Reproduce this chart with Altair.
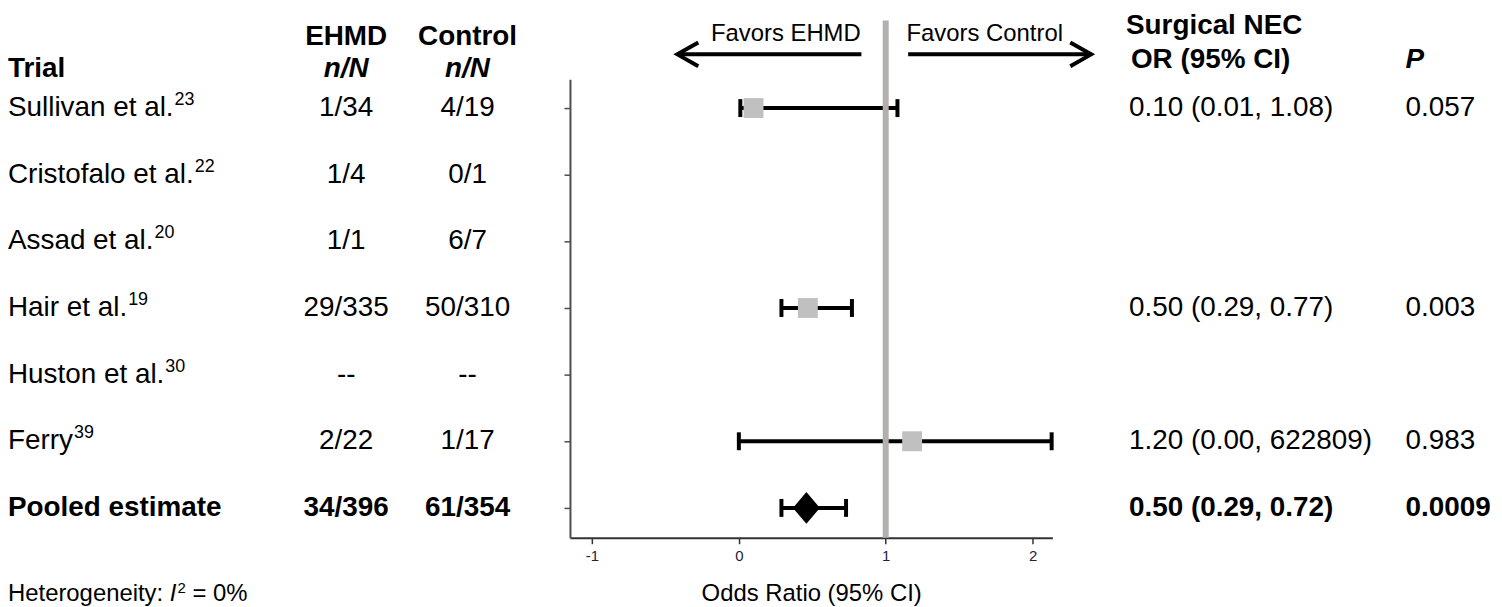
import altair as alt
import pandas as pd

# ---------------- data ----------------
trials = ["Sullivan et al.", "Cristofalo et al.", "Assad et al.", "Hair et al.",
          "Huston et al.", "Ferry", "Pooled estimate"]
refs = ["23", "22", "20", "19", "30", "39", ""]
ehmd = ["1/34", "1/4", "1/1", "29/335", "--", "2/22", "34/396"]
control = ["4/19", "0/1", "6/7", "50/310", "--", "1/17", "61/354"]
or_text = ["0.10 (0.01, 1.08)", "", "", "0.50 (0.29, 0.77)", "",
           "1.20 (0.00, 622809)", "0.50 (0.29, 0.72)"]
p_text = ["0.057", "", "", "0.003", "", "0.983", "0.0009"]
# plotted positions (Ferry's upper limit is cut at the axis end)
est = [0.10, None, None, 0.47, None, 1.18, 0.46]
ci_lo = [0.01, None, None, 0.29, None, 0.00, 0.29]
ci_hi = [1.08, None, None, 0.77, None, 2.13, 0.73]
x_ticks = [-1, 0, 1, 2]
null_value = [1]
i2_value = "0%"

# ---------------- layout ----------------
FONT = "Liberation Sans"
W, H = 485, 461
LEFT, TOP = 573, 78  # page position of plot area


def px(x):
    return x - LEFT


def py(y):
    return y - TOP


AW = {" ": 278, ".": 278, ":": 278, "a": 556, "d": 556, "e": 556, "f": 278, "g": 556,
      "i": 222, "l": 222, "n": 556, "o": 556, "r": 333, "s": 500, "t": 278, "u": 556,
      "v": 500, "y": 500, "h": 556, "A": 667, "C": 722, "F": 611, "H": 722, "S": 667,
      "I": 278, "=": 584, "0": 556, "2": 556, "%": 889}


def tw(s, size):
    return sum(AW.get(c, 556) for c in s) * size / 1000.0


n = len(trials)
df = pd.DataFrame({
    "row": list(range(n)), "trial": trials, "ref": refs, "ehmd": ehmd,
    "control": control, "or_text": or_text, "p_text": p_text,
    "est": est, "lo": ci_lo, "hi": ci_hi,
    "pooled": [False] * (n - 1) + [True],
})

xs = alt.Scale(domain=[-1.15, 2.135], nice=False, zero=False)
ys = alt.Scale(domain=[-0.433, 6.448], reverse=True, nice=False, zero=False)

AX = alt.Axis(
    values=x_ticks, title="Odds Ratio (95% CI)", titleFont=FONT, titleFontSize=24,
    titleFontWeight="normal", titleColor="black", titlePadding=18,
    labelFont=FONT, labelFontSize=15, labelColor="#22223a", labelPadding=5,
    labelExpr="'' + datum.value",
    tickSize=6, tickColor="#333333", tickWidth=1.5,
    domainColor="#333333", domainWidth=2, grid=False)
AY = alt.Axis(
    values=list(range(n)), labels=False, title=None, tickSize=6,
    tickColor="#4d4d4d", tickWidth=1.5, domainColor="#4d4d4d",
    domainWidth=2, grid=False)


def X(field):
    return alt.X(f"{field}:Q", scale=xs, axis=AX)


Y = alt.Y("row:Q", scale=ys, axis=AY)

base = alt.Chart(df)
one = pd.DataFrame({"k": [0]})

layers = []

# whiskers
layers.append(
    base.transform_filter("isValid(datum.lo)").mark_rule(
        color="black", strokeWidth=4
    ).encode(x=X("lo"), x2="hi:Q", y=Y)
)
# caps
for fld in ["lo", "hi"]:
    layers.append(
        base.transform_filter(f"isValid(datum.{fld})").mark_tick(
            orient="vertical", color="black", thickness=4, size=18, opacity=1
        ).encode(x=X(fld), y=Y)
    )

# reference line at OR = 1
layers.append(
    alt.Chart(pd.DataFrame({"v": null_value})).mark_rule(
        color="#b3afae", strokeWidth=6
    ).encode(x=X("v"), y=alt.value(py(19)), y2=alt.value(H))
)

# study squares
layers.append(
    base.transform_filter("!datum.pooled && isValid(datum.est)").mark_point(
        shape="square", filled=True, size=400, color="#c0c0c0", opacity=1,
        strokeOpacity=0
    ).encode(x=X("est"), y=Y)
)
# pooled diamond
layers.append(
    base.transform_filter("datum.pooled").mark_point(
        shape="M-0.85,0 L0,-1 L0.85,0 L0,1 Z", filled=True, size=1024,
        color="black", opacity=1
    ).encode(x=X("est"), y=Y)
)

# arrows above the plot
layers.append(alt.Chart(one).mark_rule(color="black", strokeWidth=4).encode(
    x=alt.value(px(683)), x2=alt.value(px(866)), y=alt.value(py(53))))
layers.append(alt.Chart(one).mark_rule(color="black", strokeWidth=4).encode(
    x=alt.value(px(913)), x2=alt.value(px(1095)), y=alt.value(py(53))))
layers.append(alt.Chart(one).mark_point(
    shape="M1.75,-1 L0,0 L1.75,1", filled=False, size=576, stroke="black",
    strokeWidth=4, opacity=1).encode(x=alt.value(px(681)), y=alt.value(py(53))))
layers.append(alt.Chart(one).mark_point(
    shape="M-1.75,-1 L0,0 L-1.75,1", filled=False, size=576, stroke="black",
    strokeWidth=4, opacity=1).encode(x=alt.value(px(1097)), y=alt.value(py(53))))


def label(text, x, y, size=28, weight="normal", style="normal", align="left"):
    return alt.Chart(one).mark_text(
        text=text, font=FONT, fontSize=size, fontWeight=weight, fontStyle=style,
        align=align, baseline="middle", color="black"
    ).encode(x=alt.value(px(x)), y=alt.value(py(y)))


layers += [
    label("Favors EHMD", 790, 33, size=24, align="center"),
    label("Favors Control", 990, 33, size=24, align="center"),
    label("Trial", 8, 68, weight="bold"),
    label("EHMD", 348, 36, weight="bold", align="center"),
    label("n/N", 348, 68, weight="bold", style="italic", align="center"),
    label("Control", 470, 36, weight="bold", align="center"),
    label("n/N", 470, 68, weight="bold", style="italic", align="center"),
    label("Surgical NEC", 1132, 25, weight="bold"),
    label("OR (95% CI)", 1137, 59, weight="bold"),
    label("P", 1413, 59, weight="bold", style="italic"),
]

# heterogeneity footnote
hx = 8
seg1 = "Heterogeneity:"
layers.append(label(seg1, hx, 596, size=24))
hx += tw(seg1 + " ", 24)
layers.append(label("I", hx, 596, size=24, style="italic"))
hx += tw("I", 24) + 1
layers.append(label("2", hx, 590, size=15))
hx += tw("2", 15) + tw(" ", 24)
layers.append(label("= " + i2_value, hx, 596, size=24))


def col(field, x, align, pooled):
    flt = "datum.pooled" if pooled else "!datum.pooled"
    return base.transform_filter(flt).mark_text(
        font=FONT, fontSize=28, fontWeight="bold" if pooled else "normal",
        align=align, baseline="middle", color="black"
    ).encode(x=alt.value(px(x)), y=Y, text=f"{field}:N")


for pooled in [False, True]:
    layers += [
        col("trial", 8, "left", pooled),
        col("ehmd", 348, "center", pooled),
        col("control", 470, "center", pooled),
        col("or_text", 1135, "left", pooled),
        col("p_text", 1413, "left", pooled),
    ]

# superscript reference numbers
for i in range(n):
    if refs[i]:
        layers.append(
            base.transform_filter(f"datum.row == {i}").mark_text(
                font=FONT, fontSize=18, align="left", baseline="middle",
                dy=-8, color="black"
            ).encode(x=alt.value(px(8) + tw(trials[i], 28) + 1), y=Y, text="ref:N")
        )

chart = alt.layer(*layers).properties(
    width=W, height=H,
    padding={"left": 565, "top": 70, "right": 444, "bottom": 68},
    autosize=alt.AutoSizeParams(type="none"),
    background="white",
).configure_view(stroke=None)

chart.save("out.html", embed_options={"renderer": "svg", "actions": False})
